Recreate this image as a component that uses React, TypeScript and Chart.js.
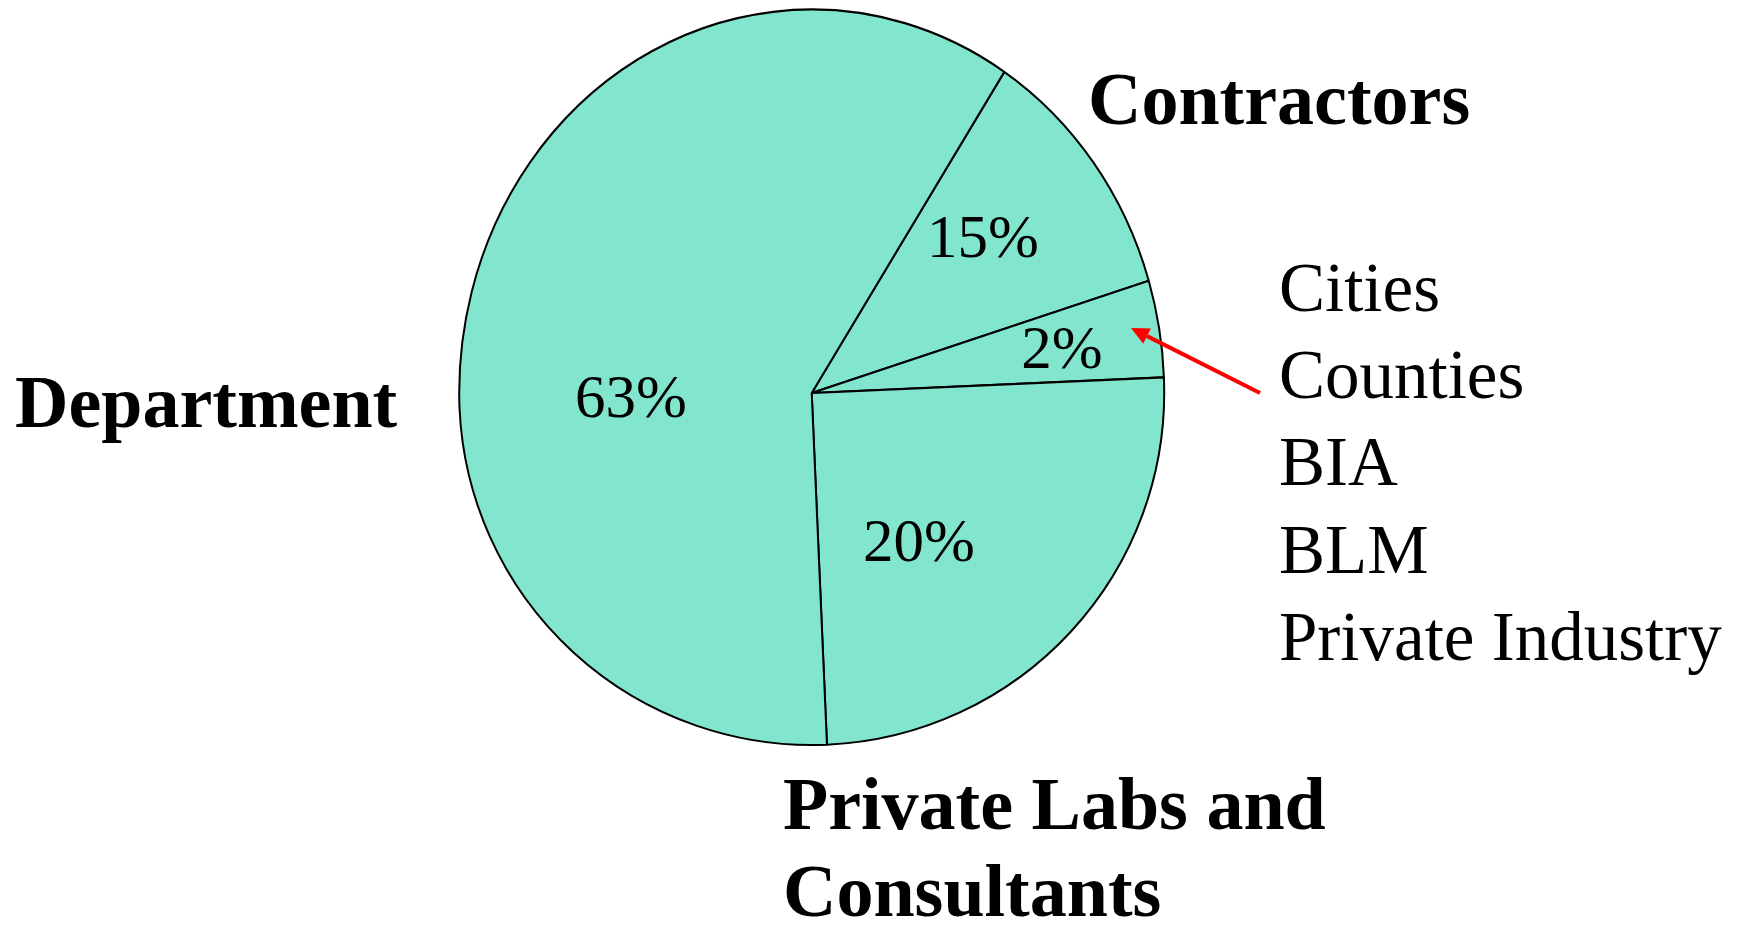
import React, { useEffect, useRef } from "react";
import { Chart, registerables } from "chart.js";

Chart.register(...registerables);

// ---- data ----
const categories = [
  "Contractors",
  "Cities / Counties / BIA / BLM / Private Industry",
  "Private Labs and Consultants",
  "Department",
];
// percentages printed on the slices
const printedPercents = ["15%", "2%", "20%", "63%"];
// share of the full circle each slice occupies in the drawing (percent)
const sliceShares = [11.07, 4.08, 24.96, 59.89];
// first slice boundary, degrees clockwise from 12 o'clock
const startAngleDeg = 33.12;
// names listed beside the small slice
const otherGroups = ["Cities", "Counties", "BIA", "BLM", "Private Industry"];

// ---- layout / style ----
const W = 1741;
const H = 925;
// pie vertex and radii (upper half is taller than lower half in the original)
const PIE = { cx: 811.7, cy: 393, rx: 352.5, ryTop: 383.5, ryBottom: 352 };
const FILL = "rgb(130,229,206)";
const SERIF = '"Liberation Serif", "Times New Roman", serif';

const percentPos = [
  { x: 983, y: 257 },
  { x: 1062, y: 368 },
  { x: 919, y: 561 },
  { x: 631, y: 417 },
];
const categoryText = [
  { lines: ["Contractors"], x: 1088, y: 124 },
  { lines: [], x: 0, y: 0 },
  { lines: ["Private Labs and", "Consultants"], x: 783, y: 829 },
  { lines: ["Department"], x: 15, y: 427 },
];
const listPos = { x: 1279, y: 311, step: 87.2 };
const arrow = { x1: 1260, y1: 393, x2: 1131, y2: 328 };

export default function App() {
  const ref = useRef<HTMLCanvasElement | null>(null);

  useEffect(() => {
    const canvas = ref.current;
    if (!canvas) return;
    const kTop = PIE.ryTop / PIE.rx;
    const kBottom = PIE.ryBottom / PIE.rx;
    const side = 2 * PIE.rx + 2;
    const left = PIE.cx - side / 2;
    const top = PIE.cy - side / 2;

    const applyHalf = (ctx: CanvasRenderingContext2D, upper: boolean) => {
      ctx.beginPath();
      if (upper) ctx.rect(0, 0, W, PIE.cy);
      else ctx.rect(0, PIE.cy, W, H - PIE.cy);
      ctx.clip();
      const k = upper ? kTop : kBottom;
      ctx.translate(0, PIE.cy);
      ctx.scale(1, k);
      ctx.translate(0, -PIE.cy);
    };

    const ellipsePlugin = {
      id: "ellipse",
      beforeDatasetsDraw(chart: any) {
        const ctx = chart.ctx;
        ctx.save();
        applyHalf(ctx, true);
      },
      afterDatasetsDraw(chart: any) {
        const ctx = chart.ctx;
        ctx.restore();
        ctx.save();
        applyHalf(ctx, false);
        chart.getDatasetMeta(0).controller.draw();
        ctx.restore();
      },
    };

    const textPlugin = {
      id: "texts",
      afterDraw(chart: any) {
        const ctx = chart.ctx;
        ctx.save();
        ctx.fillStyle = "#000";
        ctx.textBaseline = "alphabetic";
        // percentages
        ctx.font = `61px ${SERIF}`;
        ctx.textAlign = "center";
        printedPercents.forEach((p, i) => {
          ctx.fillText(p, percentPos[i].x, percentPos[i].y);
        });
        // category names
        ctx.font = `bold 74px ${SERIF}`;
        ctx.textAlign = "left";
        categoryText.forEach((c) => {
          c.lines.forEach((ln, j) => ctx.fillText(ln, c.x, c.y + j * 87));
        });
        // list of other groups
        ctx.font = `69px ${SERIF}`;
        otherGroups.forEach((g, i) => {
          ctx.fillText(g, listPos.x, listPos.y + i * listPos.step);
        });
        // red arrow
        ctx.strokeStyle = "#ff0000";
        ctx.fillStyle = "#ff0000";
        ctx.lineWidth = 4;
        const ang = Math.atan2(arrow.y2 - arrow.y1, arrow.x2 - arrow.x1);
        const headLen = 18;
        const headW = 8.5;
        const bx = arrow.x2 - headLen * Math.cos(ang);
        const by = arrow.y2 - headLen * Math.sin(ang);
        ctx.beginPath();
        ctx.moveTo(arrow.x1, arrow.y1);
        ctx.lineTo(bx, by);
        ctx.stroke();
        ctx.beginPath();
        ctx.moveTo(arrow.x2, arrow.y2);
        ctx.lineTo(bx + headW * Math.sin(ang), by - headW * Math.cos(ang));
        ctx.lineTo(bx - headW * Math.sin(ang), by + headW * Math.cos(ang));
        ctx.closePath();
        ctx.fill();
        ctx.restore();
      },
    };

    const chart = new Chart(canvas, {
      type: "pie",
      data: {
        labels: categories,
        datasets: [
          {
            data: sliceShares,
            backgroundColor: FILL,
            borderColor: "#000",
            borderWidth: 2,
            clip: false as any,
          },
        ],
      },
      options: {
        responsive: false,
        animation: false,
        events: [],
        rotation: startAngleDeg,
        radius: PIE.rx,
        layout: {
          padding: {
            left,
            top,
            right: W - (left + side),
            bottom: H - (top + side),
          },
        },
        plugins: {
          legend: { display: false },
          tooltip: { enabled: false },
          title: { display: false },
        },
      },
      plugins: [ellipsePlugin, textPlugin],
    });
    return () => chart.destroy();
  }, []);

  return (
    <div style={{ position: "fixed", left: 0, top: 0, width: W, height: H, background: "#fff" }}>
      <canvas ref={ref} width={W} height={H} style={{ display: "block" }} />
    </div>
  );
}
